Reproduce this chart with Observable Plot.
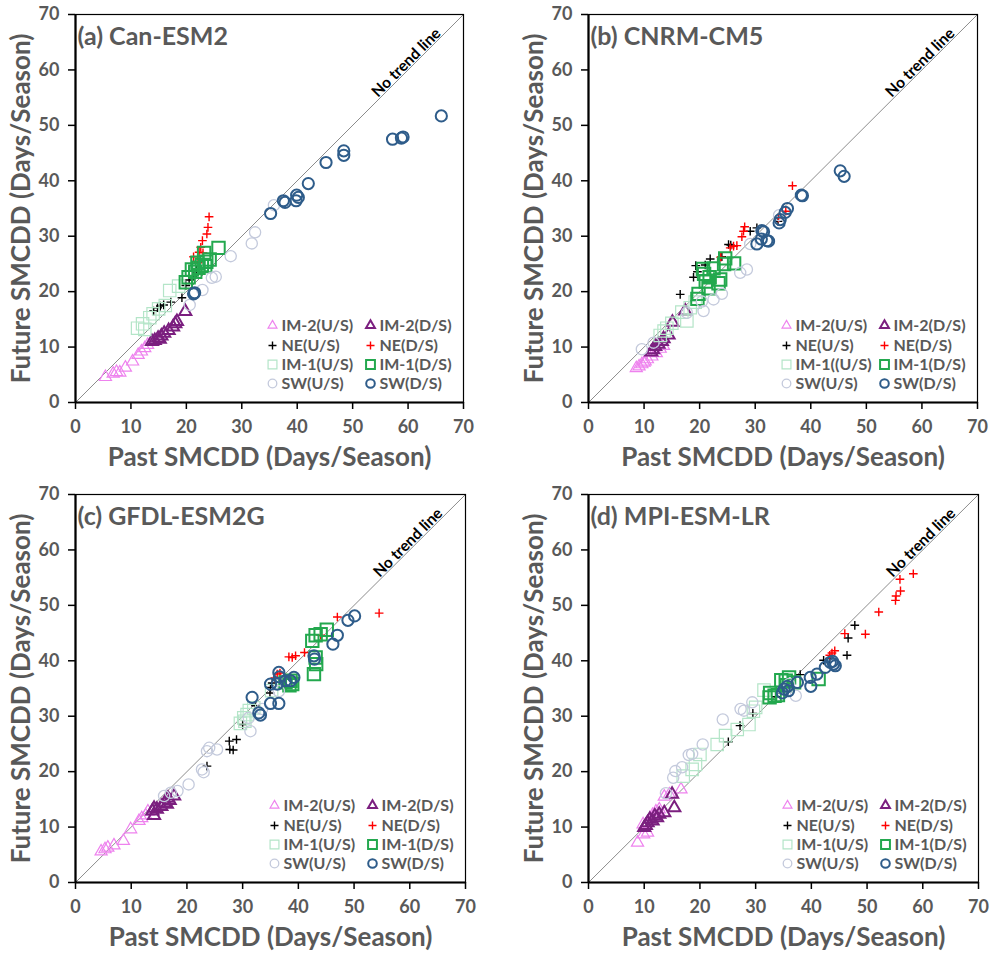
<!DOCTYPE html>
<html><head><meta charset="utf-8">
<script src="https://cdn.jsdelivr.net/npm/d3@7"></script>
<script src="https://cdn.jsdelivr.net/npm/@observablehq/plot@0.6"></script>
<style>
body{margin:0;background:#fff;}
#root{position:relative;width:991px;height:954px;background:#fff;overflow:hidden}
#root svg{position:absolute;overflow:visible}
</style></head><body><div id="root"></div>
<script>
// ---------- shared labels / ticks ----------
const tickValues = [0, 10, 20, 30, 40, 50, 60, 70];
const diagonal = [0, 70];
const noTrendAt = 60.5;
const xTitle = "Past SMCDD (Days/Season)";
const yTitle = "Future SMCDD (Days/Season)";
const panelTitles = ["(a) Can-ESM2", "(b) CNRM-CM5", "(c) GFDL-ESM2G", "(d) MPI-ESM-LR"];
const legendLabels = ["IM-2(U/S)", "IM-2(D/S)", "NE(U/S)", "NE(D/S)", "IM-1(U/S)", "IM-1(D/S)", "SW(U/S)", "SW(D/S)"];
const legendLabelsB = ["IM-2(U/S)", "IM-2(D/S)", "NE(U/S)", "NE(D/S)", "IM-1((U/S)", "IM-1(D/S)", "SW(U/S)", "SW(D/S)"];

// ---------- (a) Can-ESM2 : [past, future] ----------
const canIM2us = [[5.4,4.6],[6.8,5.2],[7.4,5.5],[8.0,5.4],[9.0,6.3],[10.3,7.4],[11.3,8.6],[11.9,9.2],[12.5,9.8],[13.0,10.4]];
const canIM2ds = [[19.8,16.4],[18.3,14.6],[18.0,14.2],[17.6,13.6],[16.8,13.0],[16.0,12.5],[15.5,12.0],[14.9,11.6],[14.3,11.2],[13.8,11.0],[15.2,11.4]];
const canNEus = [[14.1,16.5],[14.8,17.1],[15.3,17.4],[15.9,17.6],[17.2,18.1],[19.2,18.9],[19.9,21.1],[20.5,22.1],[21.2,22.8],[21.8,24.0]];
const canNEds = [[24.1,33.5],[23.9,31.6],[23.7,30.4],[22.9,29.2],[22.6,28.0],[22.3,27.1],[21.3,26.3],[22.1,25.2],[23.0,27.0]];
const canIM1us = [[17.0,20.2],[18.6,21.0],[15.0,16.9],[14.0,16.0],[13.4,15.3],[12.1,14.2],[11.2,13.4],[12.5,13.2],[16.2,17.5]];
const canIM1ds = [[25.8,27.9],[23.2,27.0],[23.6,25.4],[22.8,24.8],[22.2,24.3],[23.4,24.6],[21.6,23.6],[21.0,24.0],[20.4,22.6],[19.9,21.7],[22.0,25.2],[24.2,25.8]];
const canSWus = [[32.4,30.7],[31.8,28.7],[28.0,26.4],[25.3,22.7],[24.6,22.5],[22.9,20.3],[20.6,17.6],[35.8,35.6]];
const canSWds = [[66.0,51.7],[57.2,47.5],[58.8,47.7],[59.1,47.9],[48.4,45.4],[48.4,44.6],[45.2,43.3],[42.0,39.5],[39.9,37.4],[40.2,37.0],[39.8,36.4],[37.5,36.4],[37.8,36.1],[35.2,34.1],[21.5,19.8],[21.3,19.6]];

// ---------- (b) CNRM-CM5 ----------
const cnrmIM2us = [[8.6,6.2],[9.1,6.5],[9.6,6.9],[10.2,7.4],[10.6,7.8],[11.4,8.3],[12.2,8.9],[12.9,9.7],[13.5,10.2],[10.0,7.2]];
const cnrmIM2ds = [[17.4,16.5],[15.1,14.5],[14.4,12.2],[13.5,11.5],[13.2,11.0],[12.6,10.5],[12.0,10.1],[11.3,9.1],[11.6,9.5]];
const cnrmNEus = [[16.5,19.5],[18.9,22.6],[19.3,24.7],[19.6,23.6],[21.0,24.8],[21.9,25.9],[24.0,26.3],[25.2,28.5],[29.1,30.9],[30.3,31.5],[34.1,32.7],[25.6,28.4]];
const cnrmNEds = [[36.7,39.1],[35.5,34.5],[34.2,33.3],[28.1,31.7],[27.9,30.9],[27.6,29.9],[26.7,28.3],[26.1,28.2],[25.5,27.9],[23.8,26.2]];
const cnrmIM1us = [[17.7,14.7],[16.8,16.3],[15.0,14.3],[13.6,12.9],[12.9,12.1],[18.3,17.1],[19.2,18.1],[14.1,13.4]];
const cnrmIM1ds = [[26.2,25.1],[24.4,25.0],[23.7,22.2],[23.4,21.5],[22.5,24.2],[21.6,20.6],[21.1,21.8],[19.8,19.6],[19.6,18.7],[20.8,23.2],[20.6,24.1],[21.8,22.6],[24.6,26.0]];
const cnrmSWus = [[29.1,28.6],[28.5,24.0],[27.3,23.4],[24.0,19.6],[22.5,18.6],[20.7,16.5],[20.4,18.2],[17.7,16.2],[9.6,9.6],[11.7,10.8],[34.3,33.8]];
const cnrmSWds = [[45.3,41.8],[46.0,40.8],[38.5,37.3],[38.3,37.4],[35.8,35.0],[35.4,34.3],[34.5,33.0],[34.3,32.4],[31.2,31.0],[31.5,30.8],[32.1,29.2],[32.4,29.1],[30.3,28.6],[31.1,29.5]];

// ---------- (c) GFDL-ESM2G ----------
const gfdlIM2us = [[4.6,5.6],[5.3,6.0],[5.8,6.3],[6.9,6.7],[8.6,7.5],[9.9,9.6],[11.4,11.1],[11.9,11.6],[12.6,12.1],[13.0,12.8]];
const gfdlIM2ds = [[17.7,15.6],[16.9,14.8],[16.4,14.1],[16.0,14.4],[15.4,13.7],[14.1,13.4],[13.8,12.9],[14.1,12.1],[14.6,13.2],[16.6,15.2]];
const gfdlNEus = [[23.6,21.0],[27.6,25.5],[27.7,24.0],[28.3,23.9],[28.9,25.8],[30.0,28.5],[32.3,31.9],[34.9,34.2],[35.0,35.2],[35.3,36.0]];
const gfdlNEds = [[54.5,48.6],[47.0,47.9],[44.0,44.6],[41.1,41.5],[39.5,40.9],[38.9,40.6],[38.3,40.7],[36.2,37.6],[36.7,37.8],[35.8,36.9]];
const gfdlIM1us = [[29.6,28.7],[30.4,29.1],[30.8,30.3],[30.2,29.7],[31.2,31.0],[35.2,34.6],[32.0,31.5]];
const gfdlIM1ds = [[45.1,45.6],[44.0,44.8],[43.1,44.6],[42.5,43.6],[43.1,40.6],[43.2,39.4],[42.8,37.6],[38.6,36.4],[38.4,35.6],[37.7,36.1],[38.9,35.8]];
const gfdlSWus = [[31.4,27.3],[31.1,29.7],[25.4,24.0],[23.6,23.7],[24.0,24.3],[22.7,20.4],[23.0,19.9],[20.3,17.7],[18.3,16.5],[15.9,15.6],[17.1,16.2],[33.5,31.3],[36.5,34.5]];
const gfdlSWds = [[50.1,48.1],[48.9,47.3],[47.0,44.6],[46.2,43.0],[42.8,40.9],[42.9,40.3],[39.2,37.0],[38.6,36.4],[36.5,37.9],[36.6,37.1],[36.2,35.8],[35.0,35.8],[31.7,33.4],[32.9,30.6],[33.2,30.2],[35.0,32.3],[36.5,32.3],[37.7,36.4]];

// ---------- (d) MPI-ESM-LR ----------
const mpiIM2us = [[8.8,7.2],[9.9,8.7],[10.6,9.0],[14.5,15.9],[16.6,16.8],[13.6,15.5],[12.7,13.2],[11.5,12.2],[9.8,10.5],[12.1,12.8]];
const mpiIM2ds = [[15.4,13.5],[15.0,15.9],[13.6,12.6],[12.7,12.3],[11.9,12.0],[11.0,11.4],[10.6,10.8],[10.3,10.3],[10.0,9.9],[11.5,11.1],[12.3,11.7]];
const mpiNEus = [[47.8,46.4],[46.6,44.1],[46.4,41.0],[42.2,40.1],[43.3,40.4],[38.0,37.5],[33.7,33.5],[29.5,30.5],[27.2,28.3],[25.1,25.4]];
const mpiNEds = [[58.3,55.7],[55.9,54.7],[56.0,52.6],[55.2,51.7],[55.1,50.9],[52.1,48.8],[49.7,44.8],[46.0,44.9],[44.2,41.8],[43.7,41.4],[43.3,41.0]];
const mpiIM1us = [[31.5,34.7],[30.0,31.6],[29.6,30.9],[28.8,28.5],[26.7,27.6],[24.6,26.5],[23.1,24.9],[20.0,23.1],[19.2,21.3],[18.6,20.4],[17.0,19.2]];
const mpiIM1ds = [[36.0,37.0],[35.4,36.4],[34.6,36.5],[33.4,33.7],[32.5,33.4],[32.6,34.2],[36.9,36.1],[41.3,36.7],[35.6,35.6],[34.0,33.8]];
const mpiSWus = [[37.2,33.7],[36.0,35.8],[27.9,31.0],[29.4,32.5],[27.3,31.3],[24.1,29.4],[20.5,24.9],[18.6,23.2],[18.0,23.0],[16.8,20.8],[15.6,20.1],[15.2,18.9],[13.9,16.1]];
const mpiSWds = [[44.0,39.4],[44.3,39.1],[43.4,39.7],[42.5,38.8],[41.0,37.6],[39.8,37.0],[39.9,35.4],[37.5,36.1],[35.7,35.4],[35.1,34.9],[34.8,34.2],[35.9,34.6],[43.8,39.9]];

// ---------- styling of the 8 groups ----------
const groupSymbols = ["triangle","triangle","plus","plus","square","square","circle","circle"];
const groupColors  = ["#ee82ee","#7b1f7f","#000000","#ff0000","#b4e5c8","#23a84e","#c4cadc","#2e5c8a"];
const groupWidths  = [1.2, 2.0, 1.4, 1.4, 1.2, 2.0, 1.3, 2.0];
const groupR       = [4.5, 4.5, 2.9, 2.9, 7.0, 7.0, 5.6, 5.6];
const legendR      = [3.3, 3.3, 2.7, 2.7, 5.0, 5.0, 4.3, 4.3];

const FONT = "Lato, 'Open Sans', sans-serif";
const GRAY = "#595959";

const panels = [
  {title: panelTitles[0], labels: legendLabels,  series: [canIM2us,canIM2ds,canNEus,canNEds,canIM1us,canIM1ds,canSWus,canSWds],
   left: 0,   top: 0,   width: 495, height: 477, mL: 75, mR: 32, mT: 14, mB: 75},
  {title: panelTitles[1], labels: legendLabelsB, series: [cnrmIM2us,cnrmIM2ds,cnrmNEus,cnrmNEds,cnrmIM1us,cnrmIM1ds,cnrmSWus,cnrmSWds],
   left: 495, top: 0,   width: 496, height: 477, mL: 93, mR: 14, mT: 14, mB: 75},
  {title: panelTitles[2], labels: legendLabels,  series: [gfdlIM2us,gfdlIM2ds,gfdlNEus,gfdlNEds,gfdlIM1us,gfdlIM1ds,gfdlSWus,gfdlSWds],
   left: 0,   top: 477, width: 495, height: 477, mL: 75, mR: 30, mT: 17, mB: 72},
  {title: panelTitles[3], labels: legendLabels,  series: [mpiIM2us,mpiIM2ds,mpiNEus,mpiNEds,mpiIM1us,mpiIM1ds,mpiSWus,mpiSWds],
   left: 495, top: 477, width: 496, height: 477, mL: 93, mR: 13, mT: 17, mB: 72}
];

const legendColDx = [-191, -93];
const legendRowDy = [-77, -57, -38, -19];

const root = document.getElementById("root");

for (const p of panels) {
  const marks = [];
  marks.push(Plot.line(diagonal, {x: d => d, y: d => d, stroke: "#8c8c8c", strokeWidth: 1}));
  p.series.forEach((pts, k) => {
    marks.push(Plot.dot(pts, {
      x: d => d[0], y: d => d[1], symbol: groupSymbols[k], r: groupR[k],
      stroke: groupColors[k], strokeWidth: groupWidths[k], fill: "none"
    }));
  });
  marks.push(Plot.text([noTrendAt], {
    x: d => d, y: d => d, text: () => "No trend line", rotate: -45, lineAnchor: "bottom",
    dy: -1, dx: -1, fontSize: 15.5, fontWeight: "bold", fill: "#000", fontFamily: FONT
  }));
  // legend
  p.labels.forEach((lab, k) => {
    const dx = legendColDx[k % 2], dy = legendRowDy[Math.floor(k / 2)];
    marks.push(Plot.dot([lab], {
      frameAnchor: "bottom-right", dx, dy, symbol: groupSymbols[k], r: legendR[k],
      stroke: groupColors[k], strokeWidth: groupWidths[k], fill: "none"
    }));
    marks.push(Plot.text([lab], {
      frameAnchor: "bottom-right", dx: dx + 9, dy, text: d => d, textAnchor: "start", lineAnchor: "middle",
      fontSize: 16, fontWeight: "bold", fill: GRAY, fontFamily: FONT
    }));
  });
  // frame and axes
  marks.push(Plot.frame({stroke: "#000", strokeWidth: 1.2}));
  marks.push(Plot.ruleX([0], {stroke: "#000", strokeWidth: 2.2}));
  marks.push(Plot.ruleY([0], {stroke: "#000", strokeWidth: 2.2}));
  marks.push(Plot.axisX({ticks: tickValues, tickSize: 7, tickPadding: 11, stroke: "#000", fill: GRAY,
    fontSize: 18, fontWeight: "bold", fontFamily: FONT, label: null, strokeWidth: 1.5}));
  marks.push(Plot.axisY({ticks: tickValues, tickSize: 7, tickPadding: 9, stroke: "#000", fill: GRAY,
    fontSize: 18, fontWeight: "bold", fontFamily: FONT, label: null, strokeWidth: 1.5}));
  // titles
  marks.push(Plot.text([p.title], {frameAnchor: "top-left", dx: 2, dy: 13, text: d => d, textAnchor: "start",
    lineAnchor: "top", fontSize: 25, fontWeight: "bold", fill: GRAY, fontFamily: FONT}));
  marks.push(Plot.text([xTitle], {frameAnchor: "bottom", dy: 55, text: d => d, textAnchor: "middle", lineAnchor: "middle",
    fontSize: 26, fontWeight: "bold", fill: GRAY, fontFamily: FONT}));
  marks.push(Plot.text([yTitle], {frameAnchor: "left", dx: -54, rotate: -90, text: d => d, textAnchor: "middle", lineAnchor: "middle",
    fontSize: 26, fontWeight: "bold", fill: GRAY, fontFamily: FONT}));

  const svg = Plot.plot({
    width: p.width, height: p.height,
    marginLeft: p.mL, marginRight: p.mR, marginTop: p.mT, marginBottom: p.mB,
    x: {domain: [0, 70]}, y: {domain: [0, 70]},
    style: {fontFamily: FONT, background: "transparent", overflow: "visible"},
    marks
  });
  svg.style.left = p.left + "px";
  svg.style.top = p.top + "px";
  root.appendChild(svg);
}
</script></body></html>
